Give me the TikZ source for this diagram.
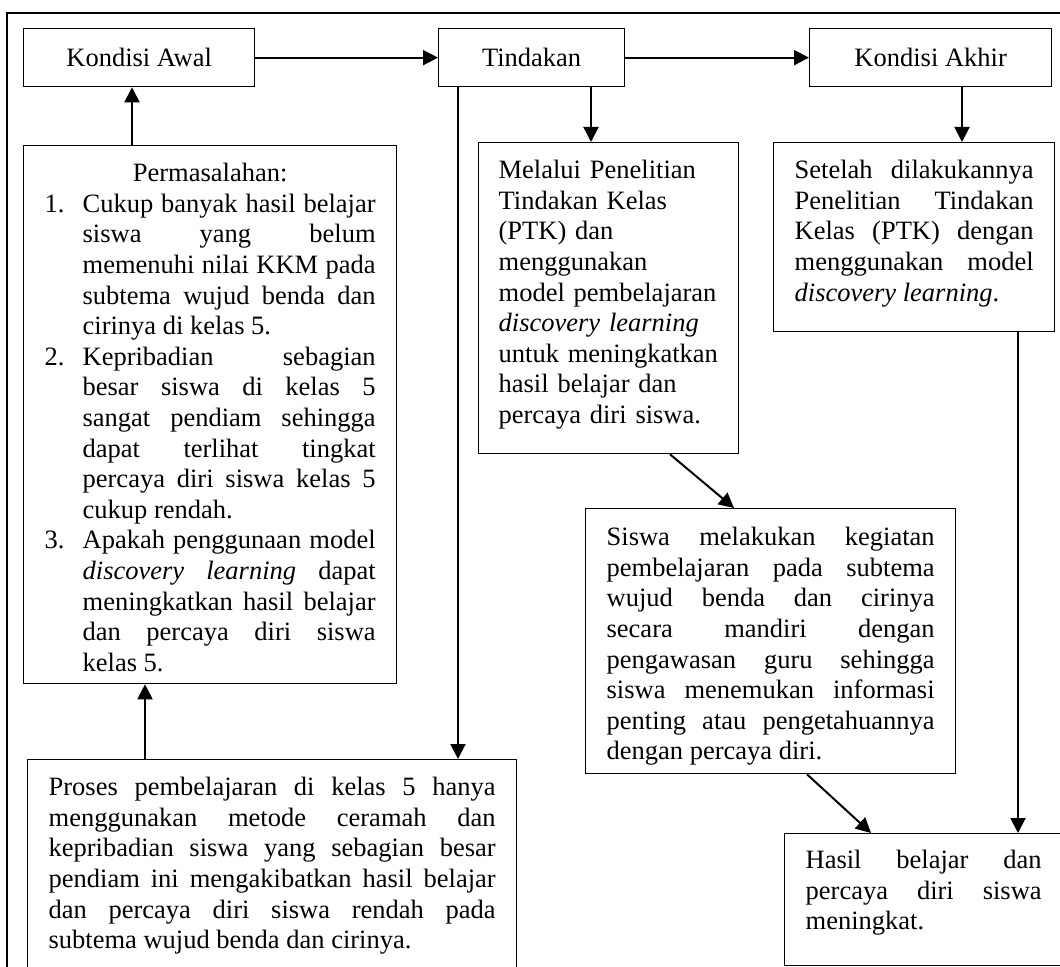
\documentclass[tikz,border=0pt]{standalone}
\usepackage{fontspec}
\setmainfont{Liberation Serif}
\usetikzlibrary{arrows.meta}
\tolerance=10000
\hbadness=10000
\hyphenpenalty=10000
\exhyphenpenalty=10000

\tikzset{
  kotak/.style={draw, line width=0.65pt, inner sep=0pt, anchor=north west,
    font=\fontsize{13.25}{15.3}\selectfont},
  judul/.style={kotak, minimum width=#1, minimum height=29pt, align=center},
  isi/.style={kotak, inner xsep=10.5pt, text width=#1, align=justify},
  panah/.style={-{Triangle[length=7.5pt,width=7.5pt]}, line width=1pt}
}

\begin{document}
\begin{tikzpicture}[x=0.5pt, y=-0.5pt]
        \useasboundingbox (0,0) rectangle (1060,967);
        \clip (0,0) rectangle (1060,967);
        \draw[line width=0.6pt] (7,13) rectangle (1080,990);

        \node[judul=115.5pt] (awal) at (23,28) {Kondisi Awal};
        \node[judul=93pt] (tindakan) at (438,28) {Tindakan};
        \node[judul=121pt] (akhir) at (809,28) {Kondisi Akhir};

        \node[isi=165.5pt, text height=18pt, text depth=251pt] (masalah) at (23,145) {%
          {\centering Permasalahan:\par}
          \hangindent=19pt\hangafter=1\makebox[19pt][l]{1.}Cukup banyak hasil belajar\linebreak
          siswa yang belum\linebreak memenuhi nilai KKM pada\linebreak
          subtema wujud benda dan\linebreak cirinya di kelas 5.\par
          \hangindent=19pt\hangafter=1\makebox[19pt][l]{2.}Kepribadian sebagian\linebreak
          besar siswa di kelas 5\linebreak sangat pendiam sehingga\linebreak
          dapat terlihat tingkat\linebreak percaya diri siswa kelas 5\linebreak cukup rendah.\par
          \hangindent=19pt\hangafter=1\makebox[19pt][l]{3.}Apakah penggunaan model\linebreak
          \textit{discovery learning} dapat\linebreak meningkatkan hasil belajar\linebreak
          dan percaya diri siswa\linebreak kelas 5.\par};

        \node[kotak, inner xsep=10pt, text width=110pt, align=left, text height=18pt, text depth=137.5pt]
          (melalui) at (478,142) {Melalui Penelitian\\ Tindakan Kelas\\ (PTK) dan\\ menggunakan\\
          model pembelajaran\\ \textit{discovery learning}\\ untuk meningkatkan\\
          hasil belajar dan\\ percaya diri siswa.};

        \node[isi=119.5pt, text height=18pt, text depth=76.5pt] (setelah) at (773,142) {%
          Setelah dilakukannya\linebreak Penelitian Tindakan\linebreak
          Kelas (PTK) dengan\linebreak menggunakan model\linebreak \textit{discovery learning}.};

        \node[isi=164pt, text height=18.5pt, text depth=114pt] (siswa) at (585,508) {%
          Siswa melakukan kegiatan\linebreak pembelajaran pada subtema\linebreak
          wujud benda dan cirinya\linebreak secara mandiri dengan\linebreak
          pengawasan guru sehingga\linebreak siswa menemukan informasi\linebreak
          penting atau pengetahuannya\linebreak dengan percaya diri.};

        \node[isi=223.5pt, text height=18pt, text depth=110pt] (proses) at (27,759) {%
          Proses pembelajaran di kelas 5 hanya\linebreak menggunakan metode ceramah dan\linebreak
          kepribadian siswa yang sebagian besar\linebreak pendiam ini mengakibatkan hasil belajar\linebreak
          dan percaya diri siswa rendah pada\linebreak subtema wujud benda dan cirinya.};

        \node[isi=118pt, text height=17.5pt, text depth=48.5pt] (hasil) at (784,833) {%
          Hasil belajar dan\linebreak percaya diri siswa\linebreak meningkat.};

        \draw[panah] (awal.east) -- (tindakan.west);
        \draw[panah] (tindakan.east) -- (akhir.west);
        \draw[panah] (masalah.north -| 132,0) -- (awal.south -| 132,0);
        \draw[panah] (proses.north -| 145,0) -- (masalah.south -| 145,0);
        \draw[panah] (tindakan.south -| 458,0) -- (proses.north -| 458,0);
        \draw[panah] (tindakan.south -| 591,0) -- (melalui.north -| 591,0);
        \draw[panah] (akhir.south -| 962,0) -- (setelah.north -| 962,0);
        \draw[panah] (melalui.south -| 670,0) -- (siswa.north -| 734,0);
        \draw[panah] (siswa.south -| 807,0) -- (hasil.north -| 871,0);
        \draw[panah] (setelah.south -| 1018,0) -- (hasil.north -| 1018,0);
    \end{tikzpicture}
\end{document}
